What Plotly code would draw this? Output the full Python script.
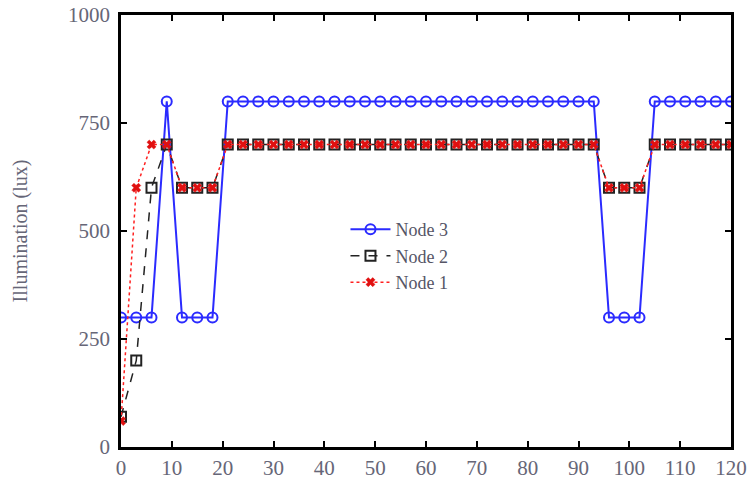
import plotly.graph_objects as go

time = list(range(0, 121, 3))
node3 = [300, 300, 300, 800, 300, 300, 300] + [800] * 25 + [300, 300, 300] + [800] * 6
node2 = [70, 200, 600, 700, 600, 600, 600] + [700] * 25 + [600, 600, 600] + [700] * 6
node1 = [60, 600, 700, 700, 600, 600, 600] + [700] * 25 + [600, 600, 600] + [700] * 6

y_ticks = [0, 250, 500, 750, 1000]
x_ticks = list(range(0, 121, 10))

fig = go.Figure()
fig.add_trace(go.Scatter(x=time, y=node3, name="Node 3", mode="lines+markers",
                         line=dict(color="#2b2bff", width=2),
                         marker=dict(symbol="circle-open", size=10, color="#2b2bff",
                                     line=dict(width=2, color="#2b2bff"))))
fig.add_trace(go.Scatter(x=time, y=node2, name="Node 2", mode="lines+markers",
                         line=dict(color="#222222", width=1.5, dash="dash"),
                         marker=dict(symbol="square-open", size=10, color="#222222",
                                     line=dict(width=2, color="#222222"))))
fig.add_trace(go.Scatter(x=time, y=node1, name="Node 1", mode="lines+markers",
                         line=dict(color="#ff2020", width=1.5, dash="dot"),
                         marker=dict(symbol="x", size=8, color="#e01010",
                                     line=dict(width=0.5, color="#e01010"))))

axis_common = dict(showgrid=False, zeroline=False, showline=True, linecolor="black",
                   linewidth=2.5, mirror="ticks", ticks="inside", ticklen=6,
                   tickcolor="black", tickwidth=1.5, automargin=False,
                   ticklabeloverflow="allow")

fig.update_layout(
    width=747, height=481,
    paper_bgcolor="white", plot_bgcolor="white",
    margin=dict(l=121, r=16, t=15, b=34),
    font=dict(family="Liberation Serif", color="#666677", size=21),
    xaxis=dict(range=[0, 120], tickvals=x_ticks, **axis_common),
    yaxis=dict(range=[0, 1000], tickvals=y_ticks, ticklabelstandoff=4,
               title=dict(text="Illumination (lux)", font=dict(size=20), standoff=36),
               **axis_common),
    legend=dict(x=0.368, y=0.546, xanchor="left", yanchor="top",
                bgcolor="rgba(0,0,0,0)", font=dict(size=18, color="#555566"),
                tracegroupgap=0, itemwidth=40),
    showlegend=True,
)

fig.write_html("out.html", config={"displayModeBar": False},
               post_script="document.body.style.margin='0';document.body.style.overflow='hidden';")
